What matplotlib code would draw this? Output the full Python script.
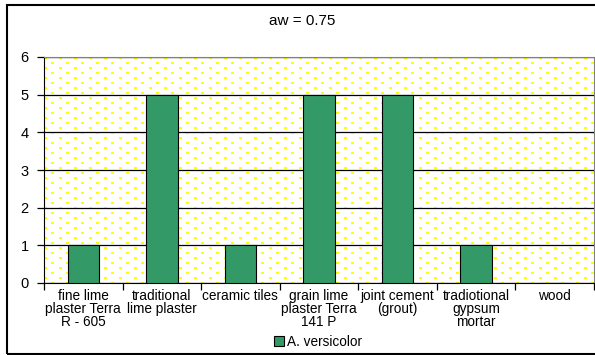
import numpy as np
import matplotlib.pyplot as plt
from matplotlib.patches import Rectangle

plt.rcParams['font.family'] = ['Liberation Sans', 'DejaVu Sans']

materials = ['fine lime\nplaster Terra\nR - 605', 'traditional\nlime plaster',
             'ceramic tiles', 'grain lime\nplaster Terra\n141 P',
             'joint cement\n(grout)', 'tradiotional\ngypsum\nmortar', 'wood']
versicolor = [1, 5, 1, 5, 5, 1, 0]
series_name = 'A. versicolor'
title = 'aw = 0.75'

fig = plt.figure(figsize=(5.95, 3.55), dpi=100)
ax = fig.add_axes([44 / 595, 72 / 355, 550 / 595, 226 / 355])

# dotted yellow background texture, one pixel per cell
h, w = 226, 550
tile = np.ones((10, 15, 3))
tile[0:2, 0:3] = [1, 1, 0]
tile[5:7, 7:10] = [1, 1, 0]
bg = np.tile(tile, (h // 10 + 1, w // 15 + 1, 1))[:h, :w]
ax.imshow(bg, extent=(0, 1, 0, 1), transform=ax.transAxes, aspect='auto',
          interpolation='nearest', zorder=0)

x = np.arange(len(materials))
ax.bar(x, versicolor, width=0.4, color='#339966', edgecolor='black',
       linewidth=0.8, zorder=3, label=series_name)

ax.set_xlim(-0.5, len(materials) - 0.5)
ax.set_ylim(0, 6)
ax.set_yticks(range(0, 7))
ax.yaxis.grid(True, color='black', linewidth=0.9)
for gl in ax.yaxis.get_gridlines():
    gl.set_zorder(1)

ax.set_xticks(np.arange(-0.5, len(materials)), labels=[])
ax.set_xticks(x, labels=materials, minor=True)
ax.tick_params(axis='x', which='minor', length=0, pad=4, labelsize=9.8)
ax.tick_params(axis='x', which='major', length=5, width=0.9, direction='out')
ax.tick_params(axis='y', length=5, width=0.9, direction='out', labelsize=10.5, pad=6)
for lbl in ax.get_xticklabels(minor=True):
    lbl.set_linespacing(0.95)

ax.spines['left'].set_color('black')
ax.spines['bottom'].set_color('black')
ax.spines['top'].set_color('#808080')
ax.spines['right'].set_color('#808080')

fig.text(302 / 595, 1 - 21 / 355, title, ha='center', va='center', fontsize=11)

fig.legend(loc='center', bbox_to_anchor=(318 / 595, 1 - 342 / 355), frameon=False,
           fontsize=9.8, handlelength=0.7, handleheight=0.7, handletextpad=0.25)

# outer chart frame
fig.patches.append(Rectangle((7 / 595, 1 / 355), 1.0, 349 / 355, transform=fig.transFigure,
                             fill=False, edgecolor='black', linewidth=1.5))

fig.savefig('out.png', dpi=100)
